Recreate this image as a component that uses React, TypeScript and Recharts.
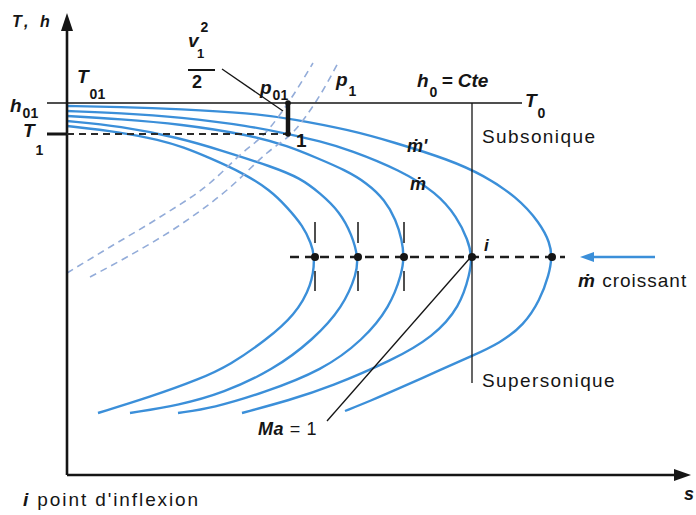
import React from "react";
import { LineChart, Line, XAxis, YAxis, ReferenceLine, ReferenceDot } from "recharts";

type Pt = { s: number; T: number };
const pts = (a: number[][]): Pt[] => a.map(([s, T]) => ({ s, T }));

// Fanno lines (upper subsonic branch -> nose -> lower supersonic branch), outermost first
const fannoMPrime = pts([
  [0, 36.9], [5.3, 36.8], [11.3, 36.6], [18.3, 36.2], [22.6, 35.6], [28.3, 34.5], [32.6, 33.3],
  [38.3, 31.5], [41.6, 30.0], [45.0, 27.8], [47.3, 25.2], [48.3, 23.2], [48.5, 21.8], [48.2, 20.0],
  [47.3, 17.5], [45.7, 15.0], [43.3, 13.2], [40.5, 11.9], [37.3, 10.5], [33.3, 8.7], [30.3, 7.4], [27.8, 6.4],
]);
const fannoM = pts([
  [0, 36.4], [5.3, 36.2], [11.3, 35.8], [18.3, 34.9], [22.1, 34.1], [25.3, 33.4], [28.3, 32.5],
  [33.3, 30.5], [37.0, 28.2], [39.0, 25.8], [40.1, 23.5], [40.5, 21.8], [40.3, 20.2], [39.3, 16.8],
  [36.6, 13.8], [32.6, 11.5], [26.3, 8.8], [22.3, 7.5], [17.5, 6.2],
]);
const fanno3 = pts([
  [0, 35.9], [5.3, 35.6], [11.3, 35.1], [18.3, 34.0], [22.1, 32.9], [25.0, 31.7], [27.8, 30.5],
  [30.0, 29.2], [31.8, 27.5], [32.9, 25.5], [33.5, 23.5], [33.7, 21.8], [33.5, 20.2], [32.3, 16.8],
  [29.6, 13.5], [25.6, 10.5], [19.6, 8.2], [14.6, 6.7], [11.1, 6.2],
]);
const fanno4 = pts([
  [0, 35.4], [5.3, 34.9], [11.3, 33.7], [15.3, 32.5], [20.6, 30.8], [23.3, 29.7], [25.3, 28.2],
  [27.3, 26.3], [28.5, 24.0], [29.1, 21.8], [29.0, 20.2], [27.6, 16.8], [24.6, 13.5], [20.6, 10.5],
  [15.6, 8.2], [11.3, 7.0], [6.3, 6.2],
]);
const fanno5 = pts([
  [0, 34.9], [5.3, 34.3], [9.3, 33.5], [11.6, 32.8], [14.3, 31.7], [17.6, 30.2], [20.3, 28.5],
  [22.0, 26.8], [23.6, 24.9], [24.4, 23.2], [24.8, 21.8], [24.5, 19.0], [22.8, 16.0], [19.9, 13.5],
  [16.3, 11.0], [13.3, 9.6], [8.3, 7.8], [3.1, 6.2],
]);
const fannoLines = [fannoMPrime, fannoM, fanno3, fanno4, fanno5];

// isobars p01 and p1 (dashed)
const isobarP01 = pts([[0, 20.2], [4.3, 22.8], [9.3, 25.8], [14.3, 29.2], [17.3, 32.0], [20.1, 34.5], [22.3, 37.5], [24.6, 41.2]]);
const isobarP1 = pts([[2.3, 19.8], [6.0, 21.8], [11.0, 24.8], [16.0, 28.5], [20.0, 32.2], [22.8, 34.5], [25.0, 37.5], [27.1, 41.2]]);

const T_H01 = 37.2;
const T_1 = 34.1;
const S_1 = 22.1;
const T_NOSE = 21.8;

const BLUE = "#3b8fd9";
const INK = "#151515";
const FONT = "'Liberation Sans', Arial, 'DejaVu Sans', sans-serif";

const noses = fannoLines.map((d) => d.reduce((a, b) => (b.s > a.s ? b : a)));

type TxtOpts = { size?: number; bold?: boolean; italic?: boolean; color?: string; spacing?: number };
const txt = (key: string, s: number, T: number, content: React.ReactNode, o: TxtOpts = {}) => (
  <ReferenceDot
    key={key}
    x={s}
    y={T}
    r={0}
    ifOverflow="visible"
    fill="none"
    stroke="none"
    label={(p: any) => (
      <text
        x={p.viewBox.x}
        y={p.viewBox.y}
        fontFamily={FONT}
        fontSize={o.size ?? 18}
        fontWeight={o.bold ? 700 : 400}
        fontStyle={o.italic ? "italic" : "normal"}
        fill={o.color ?? INK}
        letterSpacing={o.spacing ?? 0}
      >
        {content}
      </text>
    )}
  />
);

const seg = (key: string, a: [number, number], b: [number, number], width = 1.4, color = INK, dash?: string) => (
  <ReferenceLine
    key={key}
    segment={[{ x: a[0], y: a[1] }, { x: b[0], y: b[1] }]}
    stroke={color}
    strokeWidth={width}
    strokeDasharray={dash}
    ifOverflow="visible"
  />
);

const arrowHead = (key: string, s: number, T: number, dir: "up" | "right" | "left", len: number, half: number, color = INK) => (
  <ReferenceDot
    key={key}
    x={s}
    y={T}
    r={1}
    ifOverflow="visible"
    shape={(p: any) => {
      const { cx, cy } = p;
      let d = "";
      if (dir === "up") d = `${cx},${cy} ${cx - half},${cy + len} ${cx + half},${cy + len}`;
      if (dir === "right") d = `${cx},${cy} ${cx - len},${cy - half} ${cx - len},${cy + half}`;
      if (dir === "left") d = `${cx},${cy} ${cx + len},${cy - half} ${cx + len},${cy + half}`;
      return <polygon points={d} fill={color} />;
    }}
  />
);

const sub = (t: string, dy: number, size = 14) => (
  <tspan dy={dy} fontSize={size} fontStyle="normal" dx={1}>
    {t}
  </tspan>
);

export default function App() {
  return (
    <div style={{ position: "absolute", left: 0, top: 0, width: 696, height: 515, background: "#fff" }}>
      <LineChart width={696} height={515} margin={{ top: 13, right: 4, bottom: 40, left: 0 }}>
        <XAxis type="number" dataKey="s" domain={[-6.7, 62.5]} hide height={0} allowDataOverflow />
        <YAxis type="number" domain={[0, 46.2]} hide width={0} allowDataOverflow />

        {fannoLines.map((d, i) => (
          <Line
            key={`f${i}`}
            data={d}
            dataKey="T"
            type="basis"
            stroke={BLUE}
            strokeWidth={2.4}
            dot={false}
            activeDot={false}
            isAnimationActive={false}
          />
        ))}
        {[isobarP01, isobarP1].map((d, i) => (
          <Line
            key={`p${i}`}
            data={d}
            dataKey="T"
            type="monotone"
            stroke="#93acd9"
            strokeWidth={1.6}
            strokeDasharray="7 5"
            dot={false}
            activeDot={false}
            isAnimationActive={false}
          />
        ))}

        {/* axes */}
        {seg("ya", [0, 0], [0, 44.6], 2.6)}
        {arrowHead("yah", 0, 46.2, "up", 18, 6)}
        {seg("xa", [0, 0], [61.0, 0], 2.6)}
        {arrowHead("xah", 62.4, 0, "right", 17, 6)}

        {/* stagnation enthalpy, state 1 */}
        {seg("h01", [-2, T_H01], [45.5, T_H01], 1.6)}
        {seg("t1tick", [-2, T_1], [0, T_1], 3)}
        {seg("t1", [0, T_1], [S_1, T_1], 2, "#2a2a2a", "7 5")}
        {seg("bar", [S_1, T_H01], [S_1, T_1], 4.5)}
        <ReferenceDot x={S_1} y={T_H01} r={2.8} fill={INK} stroke="none" ifOverflow="visible" />
        <ReferenceDot x={S_1} y={T_1} r={2.8} fill={INK} stroke="none" ifOverflow="visible" />
        {seg("vlead", [15.5, 40.6], [21.6, 36.4], 1.3)}
        {seg("frac", [12.1, 40.5], [14.8, 40.5], 2)}

        {/* sonic line and inflection points */}
        {seg("sonic", [40.5, T_H01], [40.5, 9.2], 1.3)}
        {seg("nose", [22.3, T_NOSE], [49.8, T_NOSE], 2.6, "#1d1d1d", "9 6")}
        {noses.slice(2).map((n, i) => [
          seg(`tu${i}`, [n.s, 25.3], [n.s, 23.2], 1.5),
          seg(`td${i}`, [n.s, 20.4], [n.s, 18.4], 1.5),
        ])}
        {noses.map((n, i) => (
          <ReferenceDot key={`n${i}`} x={n.s} y={n.T} r={4} fill={INK} stroke="none" ifOverflow="visible" />
        ))}
        {seg("malead", [26.0, 5.4], [40.3, 21.7], 1.3)}
        {seg("blue", [58.8, T_NOSE], [52.6, T_NOSE], 2.6, BLUE)}
        {arrowHead("blueh", 51.3, T_NOSE, "left", 14, 5, BLUE)}

        {/* labels */}
        {txt("th", -5.5, 44.8, "T, h", { size: 16, bold: true, italic: true, spacing: 3.5 })}
        {txt("t01", 1.0, 39.2, <>T{sub("01", 16)}</>, { size: 19, bold: true, italic: true })}
        {txt("h01l", -5.7, 36.3, <>h{sub("01", 6)}</>, { size: 19, bold: true, italic: true })}
        {txt("t1l", -4.4, 33.8, <>T{sub("1", 18)}</>, { size: 19, bold: true, italic: true })}
        {txt("v", 12.1, 42.8, <>v<tspan dy={-15} dx={2} fontSize={14} fontStyle="normal">2</tspan></>, { size: 19, bold: true, italic: true })}
        {txt("v1", 13.0, 41.7, "1", { size: 13, bold: true })}
        {txt("v2", 12.5, 38.7, "2", { size: 18, bold: true })}
        {txt("p01", 19.3, 38.1, <>p{sub("01", 6)}</>, { size: 19, bold: true, italic: true })}
        {txt("p1", 26.9, 38.9, <>p{sub("1", 10)}</>, { size: 19, bold: true, italic: true })}
        {txt("h0", 35.0, 38.8, <>h{sub("0", 10)}<tspan dy={-10} dx={4}>= Cte</tspan></>, { size: 19, bold: true, italic: true })}
        {txt("t0", 45.8, 36.8, <>T{sub("0", 11)}</>, { size: 19, bold: true, italic: true })}
        {txt("one", 22.9, 32.8, "1", { size: 19, bold: true })}
        {txt("mp", 34.0, 32.3, "ṁ'", { size: 18, bold: true, italic: true })}
        {txt("m", 34.3, 28.5, "ṁ", { size: 18, bold: true, italic: true })}
        {txt("sub", 41.5, 33.2, "Subsonique", { size: 19, spacing: 1.4 })}
        {txt("i", 41.7, 22.4, "i", { size: 17, bold: true, italic: true })}
        {txt("mc", 51.1, 18.8, <><tspan fontStyle="italic" fontWeight={700}>ṁ</tspan> croissant</>, { size: 19, spacing: 1.0 })}
        {txt("sup", 41.5, 8.8, "Supersonique", { size: 19, spacing: 1.4 })}
        {txt("ma", 19.1, 4.0, <><tspan fontWeight={700} fontStyle="italic">Ma</tspan> = 1</>, { size: 18, spacing: 0.6 })}
        {txt("s", 61.7, -2.5, "s", { size: 18, bold: true, italic: true })}
        {txt("inf", -4.4, -3.1, <><tspan fontWeight={700} fontStyle="italic">i</tspan> point d'inflexion</>, { size: 19, spacing: 1.9 })}
      </LineChart>
    </div>
  );
}
